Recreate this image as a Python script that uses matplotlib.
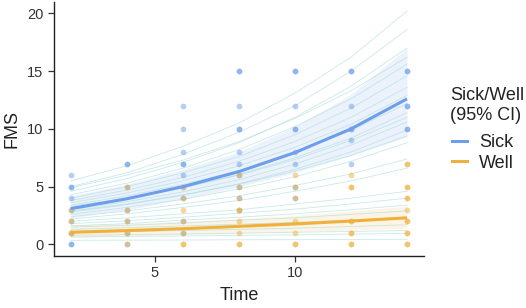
import matplotlib.pyplot as plt
from matplotlib.lines import Line2D

plt.rcParams['font.family'] = ['Liberation Sans', 'DejaVu Sans']

# observation times
times = [2, 4, 6, 8, 10, 12, 14]

# raw FMS scores at each time (one list per time)
sick_fms = [
    [6, 5, 5, 4, 3, 2, 1, 0, 0],
    [7, 7, 5, 3, 2, 1, 0],
    [12, 10, 8, 7, 7, 6, 5, 4, 2, 1],
    [15, 15, 12, 10, 10, 8, 7, 6, 5, 4, 3],
    [15, 15, 12, 10, 10, 8, 7, 5, 4],
    [15, 15, 12, 10, 10, 9, 7],
    [15, 15, 12, 12, 10, 10],
]
well_fms = [
    [3, 2, 1, 1],
    [5, 3, 2, 1, 0],
    [5, 4, 3, 2, 1, 0, 0],
    [6, 5, 4, 3, 3, 2, 1, 0, 0],
    [6, 5, 4, 2, 1, 0, 0],
    [6, 5, 5, 2, 2, 1, 1, 0, 0],
    [7, 7, 5, 5, 4, 4, 3, 2, 2, 1, 1, 0, 0],
]

# group mean fits and 95% CI
sick_mean = [3.1, 3.95, 5.0, 6.3, 7.95, 10.0, 12.6]
sick_lo = [2.3, 3.0, 3.9, 5.0, 6.2, 7.7, 9.3]
sick_hi = [4.2, 5.2, 6.5, 8.0, 10.2, 13.0, 17.0]
well_mean = [1.05, 1.2, 1.36, 1.56, 1.77, 2.02, 2.3]
well_lo = [0.6, 0.72, 0.85, 0.98, 1.1, 1.25, 1.4]
well_hi = [1.7, 1.8, 2.0, 2.2, 2.5, 2.9, 3.3]

# individual subject fitted trajectories
subject_fits = [
    [5.5, 6.8, 8.5, 10.5, 13.1, 16.2, 20.2],
    [5.0, 6.2, 7.8, 9.7, 12.0, 15.0, 18.6],
    [4.9, 6.0, 7.3, 8.9, 10.9, 13.3, 16.2],
    [4.6, 5.7, 7.1, 8.8, 11.0, 13.7, 17.0],
    [4.3, 5.3, 6.6, 8.2, 10.2, 12.6, 15.6],
    [4.0, 5.0, 6.2, 7.6, 9.5, 11.8, 14.6],
    [3.8, 4.7, 5.8, 7.2, 8.9, 11.0, 13.6],
    [3.6, 4.45, 5.5, 6.8, 8.4, 10.4, 12.9],
    [3.4, 4.2, 5.2, 6.4, 7.95, 9.85, 12.2],
    [3.3, 4.0, 4.9, 6.0, 7.35, 9.0, 11.0],
    [3.2, 3.95, 4.9, 6.05, 7.5, 9.2, 11.4],
    [3.0, 3.7, 4.55, 5.6, 6.95, 8.6, 10.6],
    [2.9, 3.5, 4.3, 5.2, 6.35, 7.7, 9.4],
    [2.8, 3.45, 4.25, 5.25, 6.5, 8.0, 9.9],
    [2.6, 3.2, 3.9, 4.8, 5.85, 7.2, 8.8],
    [2.4, 2.9, 3.5, 4.2, 5.1, 6.1, 7.4],
    [2.2, 2.65, 3.2, 3.8, 4.6, 5.5, 6.6],
    [2.0, 2.3, 2.65, 3.0, 3.5, 4.0, 4.6],
    [1.8, 2.05, 2.35, 2.7, 3.05, 3.5, 4.0],
    [1.6, 1.8, 2.1, 2.35, 2.65, 3.0, 3.4],
    [1.5, 1.65, 1.85, 2.1, 2.3, 2.6, 2.9],
    [1.3, 1.45, 1.6, 1.75, 1.9, 2.1, 2.3],
    [1.0, 1.1, 1.2, 1.3, 1.4, 1.55, 1.7],
    [0.8, 0.85, 0.9, 0.97, 1.05, 1.12, 1.2],
    [0.65, 0.69, 0.73, 0.78, 0.83, 0.89, 0.95],
    [0.35, 0.37, 0.38, 0.4, 0.41, 0.43, 0.45],
]

blue = '#6d9eeb'
orange = '#efb03c'
teal = '#a6dbdb'

fig = plt.figure(figsize=(5.26, 3.08), dpi=100)
ax = fig.add_axes([0.1027, 0.169, 0.703, 0.825])

ax.fill_between(times, sick_lo, sick_hi, color=blue, alpha=0.13, lw=0)
ax.fill_between(times, well_lo, well_hi, color=orange, alpha=0.13, lw=0)

for fit in subject_fits:
    ax.plot(times, fit, color=teal, lw=0.6, alpha=0.6)

for t, vals in zip(times, sick_fms):
    ax.scatter([t] * len(vals), vals, s=17, color=blue, alpha=0.5, lw=0, zorder=3)
for t, vals in zip(times, well_fms):
    ax.scatter([t] * len(vals), vals, s=17, color=orange, alpha=0.5, lw=0, zorder=3)

ax.plot(times, sick_mean, color=blue, lw=2.2, zorder=4, solid_capstyle='butt')
ax.plot(times, well_mean, color=orange, lw=2.2, zorder=4, solid_capstyle='butt')

ax.set_xlim(1.4, 14.6)
ax.set_ylim(-1, 21)
ax.set_xticks([5, 10])
ax.set_yticks([0, 5, 10, 15, 20])
ax.tick_params(labelsize=10.5, colors='#333333', length=4, width=0.9)
for side in ['top', 'right']:
    ax.spines[side].set_visible(False)
for side in ['left', 'bottom']:
    ax.spines[side].set_linewidth(1.0)
    ax.spines[side].set_color('#222222')

ax.set_xlabel('Time', fontsize=13, color='#222222', labelpad=5)
ax.set_ylabel('FMS', fontsize=13, color='#222222', labelpad=5)

# legend title as its own text, ggplot leaves a wider gap above the keys
fig.text(450 / 526, 1 - 87 / 308, 'Sick/Well\n(95% CI)', fontsize=13,
         color='#222222', ha='left', va='top', linespacing=1.2)
handles = [Line2D([], [], color=blue, lw=2.2), Line2D([], [], color=orange, lw=2.2)]
leg = fig.legend(handles, ['Sick', 'Well'],
                 loc='upper left', bbox_to_anchor=(452 / 526, 1 - 134 / 308), frameon=False,
                 fontsize=13, handlelength=0.85, handletextpad=0.65,
                 labelspacing=0.2, borderaxespad=0, borderpad=0)
for txt in leg.get_texts():
    txt.set_color('#222222')

fig.savefig('out.png', dpi=100)
